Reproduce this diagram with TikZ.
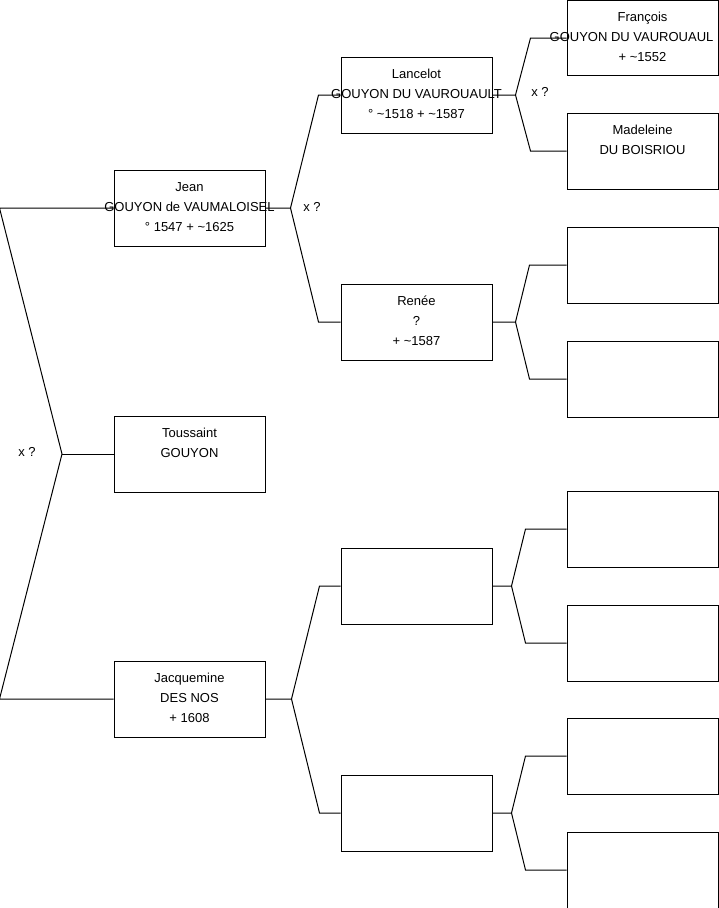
\documentclass[tikz,border=0pt]{standalone}
\usepackage{fontspec}
\setmainfont{Liberation Sans}
\usetikzlibrary{positioning}

\begin{document}
\begin{tikzpicture}[
    x=1pt, y=-1pt,
    person/.style={rectangle, draw, minimum width=151pt, minimum height=76pt, inner sep=0pt, line width=1pt},
    name_style/.style={align=center, inner sep=0pt, font=\fontsize{13}{20}\selectfont},
    link/.style={line width=1pt},
    union_style/.style={font=\fontsize{13}{16}\selectfont}
]
    \useasboundingbox (0,0) rectangle (719,908);

    % --- FIRST GENERATION ---
    \node[person] (jean) at (189.5,208) {};
    \node[name_style] (jean-t) at (189.5,207) {Jean\\GOUYON de VAUMALOISEL\\° 1547 + \textasciitilde1625};
    \node[person] (tous) at (189.5,454) {};
    \node[name_style] (tous-t) at (189.5,453) {Toussaint\\GOUYON\\\mbox{}};
    \node[person] (jac) at (189.5,699) {};
    \node[name_style] (jac-t) at (189.5,698) {Jacquemine\\DES NOS\\+ 1608};

    % --- SECOND GENERATION ---
    \node[person] (lanc) at (416.5,95) {};
    \node[name_style] (lanc-t) at (416.5,94) {Lancelot\\GOUYON DU VAUROUAULT\\° \textasciitilde1518 + \textasciitilde1587};
    \node[person] (renee) at (416.5,322) {};
    \node[name_style] (renee-t) at (416.5,321) {Renée\\?\\+ \textasciitilde1587};
    \node[person] (G2-3) at (416.5,586) {};
    \node[person] (G2-4) at (416.5,813) {};

    % --- THIRD GENERATION ---
    % the surname runs into the right edge, as in the tree
    \node[person, minimum height=75pt] (franc) at (642.5,38) {};
    \node[name_style] (franc-t) at (642.5,37) {François\\GOUYON DU VAUROUAUL\hspace{22pt}\mbox{}\\+ \textasciitilde1552};
    \node[person] (mad) at (642.5,151) {};
    \node[name_style] (mad-t) at (642.5,150) {Madeleine\\DU BOISRIOU\\\mbox{}};
    \foreach \i/\y in {3/265, 4/379, 5/529, 6/643, 7/756, 8/870} {
        \node[person] (G3-\i) at (642.5,\y) {};
    }

    % --- FORKS ---
    \coordinate (v0) at (62,454);
    \draw[link] (jean.west) -- ([xshift=-114pt]jean.west) -- (v0) -- ([xshift=-114pt]jac.west) -- (jac.west);
    \draw[link] (v0) -- (tous.west);
    \node[union_style] (u0) at (27,452) {x ?};

    \draw[link] (jean.east) -- ++(25,0) coordinate (v1) -- ([xshift=28pt]v1 |- lanc.west) -- (lanc.west);
    \draw[link] (v1) -- ([xshift=28pt]v1 |- renee.west) -- (renee.west);
    \node[union_style] (u1) at (312,207) {x ?};

    \draw[link] (jac.east) -- ++(26,0) coordinate (v2) -- ([xshift=28pt]v2 |- G2-3.west) -- (G2-3.west);
    \draw[link] (v2) -- ([xshift=28pt]v2 |- G2-4.west) -- (G2-4.west);

    \draw[link] (lanc.east) -- ++(23,0) coordinate (v3) -- ([xshift=15pt]v3 |- franc.west) -- (franc.west);
    \draw[link] (v3) -- ([xshift=15pt]v3 |- mad.west) -- (mad.west);
    \node[union_style] (u3) at (540,92) {x ?};

    \draw[link] (renee.east) -- ++(23,0) coordinate (v4) -- ([xshift=14pt]v4 |- G3-3.west) -- (G3-3.west);
    \draw[link] (v4) -- ([xshift=14pt]v4 |- G3-4.west) -- (G3-4.west);

    \draw[link] (G2-3.east) -- ++(19,0) coordinate (v5) -- ([xshift=14pt]v5 |- G3-5.west) -- (G3-5.west);
    \draw[link] (v5) -- ([xshift=14pt]v5 |- G3-6.west) -- (G3-6.west);

    \draw[link] (G2-4.east) -- ++(19,0) coordinate (v6) -- ([xshift=14pt]v6 |- G3-7.west) -- (G3-7.west);
    \draw[link] (v6) -- ([xshift=14pt]v6 |- G3-8.west) -- (G3-8.west);

\end{tikzpicture}
\end{document}
